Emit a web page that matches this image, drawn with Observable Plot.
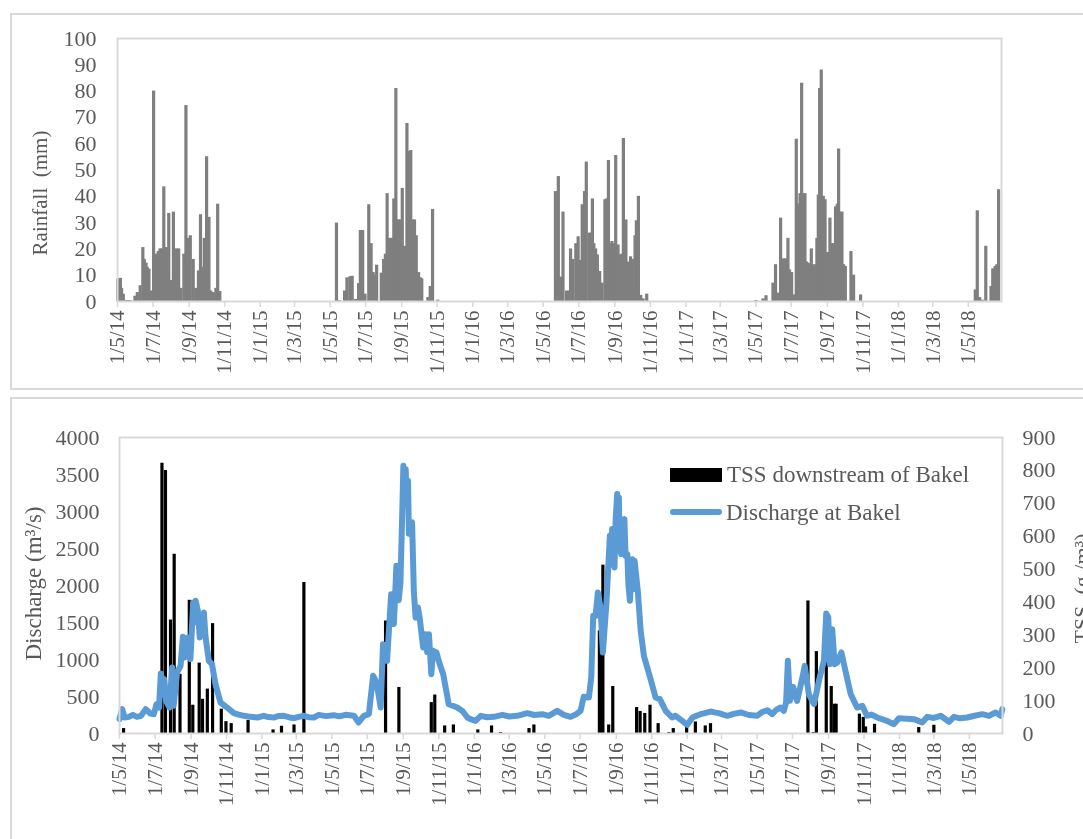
<!DOCTYPE html>
<html>
<head>
<meta charset="utf-8">
<script src="https://cdn.jsdelivr.net/npm/d3@7"></script>
<script src="https://cdn.jsdelivr.net/npm/@observablehq/plot@0.6"></script>
<style>
html,body{margin:0;padding:0;background:#fff;overflow:hidden;width:1083px;height:839px}
#page{position:relative;width:1083px;height:839px;overflow:hidden;filter:blur(.4px);font-family:"Liberation Serif",serif;color:#595959}
.panel{position:absolute;left:10px;right:-10px;border:2px solid #d9d9d9;box-sizing:border-box}
#p1{top:13px;height:377px}
#p2{top:397px;height:460px}
.chart{position:absolute;left:0}
.chart svg{overflow:visible;background:transparent}
.leg{position:absolute;font-size:23px;white-space:nowrap;color:#595959}
.key{position:absolute}
</style>
</head>
<body>
<div id="page">
  <div class="panel" id="p1"></div>
  <div class="panel" id="p2"></div>
  <div class="chart" id="top" style="top:0"></div>
  <div class="chart" id="bot" style="top:400px"></div>
  <div class="key" style="left:670px;top:468px;width:52px;height:14px;background:#000"></div>
  <div class="leg" style="left:727px;top:462px">TSS downstream of Bakel</div>
  <div class="key" style="left:670px;top:509px;width:52px;height:6px;border-radius:3px;background:#5b9bd5"></div>
  <div class="leg" style="left:726px;top:500px">Discharge at Bakel</div>
</div>
<script>
const tickLabels = ["1/5/14","1/7/14","1/9/14","1/11/14","1/1/15","1/3/15","1/5/15","1/7/15","1/9/15","1/11/15","1/1/16","1/3/16","1/5/16","1/7/16","1/9/16","1/11/16","1/1/17","1/3/17","1/5/17","1/7/17","1/9/17","1/11/17","1/1/18","1/3/18","1/5/18"];
const rainTicks = [0,10,20,30,40,50,60,70,80,90,100];
const dischargeTicks = [0,500,1000,1500,2000,2500,3000,3500,4000];
const tssTicks = [0,100,200,300,400,500,600,700,800,900];

// Days since 1 May 2014 and rainfall in mm
const rainDays = [0.5,3,5,7,10,14,18,22,30,34,39,43.5,46,49,51,54,58,62,65,67.5,70,73,76,79.5,83.5,86,88,92,96,101,105,109,114,117.5,121,125,130,134.5,139,142.5,146,149,153,157,160,165,169,172,175.7,
376,381,390,394,399,403,409,414,417,421,425,431.5,435.5,439,441,445,453,457,460,463,466,469,472,474.5,478,480,483,486,489,493,497,500,503.6,507,510,513,517,520,522.5,533,537,541,550,
752,757,761,765,771,776,778,782,787,791,795,798,802,805,810,813,815.5,818,821,824,828,832,837,840,843,846,849,852,855.5,859.5,863.5,866,868.7,873,876.7,881,884,886,888.7,891,894.5,898.5,902.5,908.8,
1096.4,1108.4,1113.6,1125.6,1130,1134.7,1138.7,1141,1144,1147,1151.3,1154,1157.6,1161,1165.6,1168,1170,1172,1174.8,1177,1180.5,1183,1186,1189,1191.4,1194,1196.5,1199,1201,1203.4,1205.7,1208.5,1212,1215,1219.4,1223.4,1226,1228,1230,1233,1236,1238.3,1241,1244,1247,1249.8,1259.5,1264,1276,
1473,1476.4,1480.4,1485,1491,1500,1503,1507,1510,1513];
const rainMm = [8.5,8.6,8.8,5,2.8,0.4,0.4,0.3,2,3.4,6,20.5,16,14.6,13,12.3,4,80,18,17.6,19,20,20,43.6,20.5,20,33.5,8,34,20,20,5,18,74.5,24,25,16,5,11.6,33,13,24,55,32,4,3.4,5,37,3.8,
29.8,0.3,4,9,9.4,9.6,0.8,6.8,27,27,2.8,36.8,22,11,10,13.8,10.8,16,18,41,24,24,24,39,81,31,31,31,43,21,67.7,57,57.4,31,31,25,11,9,8.6,1.5,5.7,35,0.5,
41.8,47.5,9.3,34,4,4,20,16,22,24.6,15.6,36.8,41.8,53,26,26,39,22,20,17.7,11.4,7,38.7,39,53.6,22,22.8,22,55.5,21.5,17.7,18,62,31,15,17,16,5,25,30.7,40,2.3,1,2.8,
0.4,1,2.2,7,14,3.2,31.7,16,16.2,16.2,24,12,11,2.5,61.7,37,37,41,83,41,41,15,14.6,14,20,14,13,14,24,40.5,81,88,40,38.7,18.6,31.7,22,21,22,36,37,58,34,34,14,13.3,19,10,2.5,
4.4,34.5,1.5,0.5,21,5.7,12.4,13.3,14,42.5];

// TSS: days since 1 May 2014 and g/m3
const tssDays = [7,73,79,87.7,94,104,120,126,137,142.7,151,160,175,183,192,221,264,278.5,300,317,457.4,480.3,536,542,559,574,616,639.6,655,704,712.4,825,828,831,841,848,889,895,903,912,926,944.5,952,975,990,1007,1016,1183.5,1192.7,1198,1215,1223.6,1229,1232,1272,1278.6,1282.6,1298,1374,1400];
const tssValues = [15,822,800,345,545,180,405,86,214,104,135,334,74,36,30,40,11,22,26,459,342,140,94,117,23,26,11,23,3,15,26,312,240,512,26,143,79,67,61,86,30,3,15,23,35,23,30,403,3,249,240,143,89,89,59,49,20,28,18,25];

// Discharge: days since 1 May 2014 and m3/s
const qDays = [0,4.6,8.6,16,23,30,37,45,53,59,63.6,68,71,74,77,80,86,90.5,93,99,105,109,112,117.5,122,126.6,129,131,134.7,138,141,145,148,153.6,159,165,173.6,185,196.6,205,214,225,237,248,256,265,274,282.5,291,300,308,317,325,334,342.7,355,368.5,378,388.5,403,411,420,428.7,436,442,449,453,457,460,464,467,471.7,476,480,483,485.5,488,490,492,494,496,497.5,499,503,506,509,513,516,522,526,529,532,536,539.3,545,550,556.5,566,580.6,590,598,605,612,621,632,643.6,658,670,683.7,701,713,726.7,738,752.5,764,775.4,785,792.6,798,807,811,814.4,818.4,822.4,827,831,837,843,845,847,849,851,853,855.6,857,858.5,860,862.5,865,868,870,873,875,877.5,881.5,883.5,885.5,888,891,896,901.5,913,921.6,929,939,950,956,967.4,976,985,992,999,1008,1016,1023,1030.5,1038,1045,1056,1068,1082,1096,1105,1113.6,1122,1129,1136.5,1142,1146,1149,1152.5,1158,1165,1174,1178,1185,1194,1202.4,1211,1215,1218.5,1221.3,1225.3,1229.4,1234,1241,1248,1257,1268,1277,1285,1293,1302.7,1318,1331.4,1340,1353,1366,1380,1388.7,1400,1411.6,1426,1434.5,1445,1457.4,1470,1483,1494.7,1506,1515,1517.6];
const qValues = [194,330,216,225,252,225,239,329,270,261,396,351,811,700,734,441,351,892,374,824,914,1306,1027,1297,1005,1770,1500,1793,1658,1297,1450,1635,1297,982,937,667,419,351,275,255,239,225,216,239,222,216,238,239,220,207,225,239,220,216,252,235,248,232,252,239,149,239,261,779,689,351,1207,982,982,1500,1883,1478,2266,1800,2040,2800,3617,3300,3572,3100,3415,2700,2829,2851,1928,1568,1703,1568,1162,1342,1100,1342,802,1117,1095,950,802,396,351,300,216,190,171,239,220,225,252,230,239,275,250,261,239,306,252,225,260,306,496,487,757,1590,1590,1906,1703,1095,1748,2671,2400,2762,2300,2243,2900,3235,2700,3190,2500,2424,2850,2897,2400,2424,2000,1793,2356,1950,2334,2150,1928,1387,1050,734,487,464,306,216,239,171,117,216,240,261,280,297,285,275,255,239,265,284,250,239,290,315,261,320,351,306,420,982,441,631,441,757,914,532,396,712,982,1622,1568,937,1410,937,960,1095,847,532,351,374,239,255,216,175,126,207,200,194,149,225,210,239,158,225,205,216,240,261,239,284,239,329];

const base = Date.UTC(2014,4,1), day = 864e5;
const toDate = d => new Date(base + d*day);
const parseTick = s => { const [d,m,y] = s.split("/").map(Number); return new Date(Date.UTC(2000+y,m-1,d)); };
const tickDates = tickLabels.map(parseTick);
const tickFmt = d => tickLabels[tickDates.findIndex(t => +t === +d)];

const rain = rainDays.map((d,i)=>({date:toDate(d),v:rainMm[i]}));
const ratio = 4000/900;
const tss = tssDays.map((d,i)=>({date:toDate(d),v:tssValues[i]*ratio}));
const q = qDays.map((d,i)=>({date:toDate(d),v:qValues[i]}));

const TXT = "#595959", GRID = "#d9d9d9", FS = 21, YFS = 22;
const xAxis = () => Plot.axisX({ticks:tickDates,tickFormat:tickFmt,tickRotate:-90,tickSize:6,tickPadding:3,stroke:GRID,strokeWidth:1.5,strokeOpacity:1,fill:TXT,label:null});

const top_ = Plot.plot({
  width:1083,height:400,marginTop:38,marginBottom:99,marginLeft:117,marginRight:82,
  style:{fontFamily:"Liberation Serif",fontSize:FS+"px",background:"transparent"},
  x:{type:"utc",domain:[toDate(0),toDate(1518)]},
  y:{domain:[0,100]},
  marks:[
    Plot.ruleX(rain,{x:"date",y1:0,y2:"v",stroke:"#7f7f7f",strokeWidth:3.2}),
    Plot.frame({stroke:GRID,strokeWidth:2}),
    xAxis(),
    Plot.axisY({ticks:rainTicks,tickFormat:d=>String(d),tickSize:0,tickPadding:21,fontSize:YFS,fill:TXT,label:null}),
    Plot.text(["Rainfall\u00a0\u00a0(mm)"],{frameAnchor:"left",textAnchor:"middle",rotate:-90,dx:-77,dy:23,fill:TXT,fontSize:21})
  ]
});
document.getElementById("top").append(top_);

const bot_ = Plot.plot({
  width:1083,height:439,marginTop:37,marginBottom:106,marginLeft:119,marginRight:81,
  style:{fontFamily:"Liberation Serif",fontSize:FS+"px",background:"transparent"},
  x:{type:"utc",domain:[toDate(0),toDate(1518)]},
  y:{domain:[0,4000]},
  marks:[
    Plot.ruleX(tss,{x:"date",y1:0,y2:"v",stroke:"#000",strokeWidth:3.2}),
    Plot.line(q,{x:"date",y:"v",stroke:"#5b9bd5",strokeWidth:6,strokeLinejoin:"round",strokeLinecap:"round"}),
    Plot.frame({stroke:GRID,strokeWidth:2}),
    xAxis(),
    Plot.axisY({ticks:dischargeTicks,tickFormat:d=>String(d),tickSize:0,tickPadding:20,fontSize:YFS,fill:TXT,label:null}),
    Plot.axisY({anchor:"right",ticks:tssTicks.map(v=>v*ratio),tickFormat:v=>String(Math.round(v/ratio)),tickSize:0,tickPadding:20,fontSize:YFS,fill:TXT,label:null}),
    Plot.text(["Discharge (m\u00b3/s)"],{frameAnchor:"left",textAnchor:"middle",rotate:-90,dx:-86,dy:-2,fill:TXT,fontSize:23}),
    Plot.text(["TSS\u00a0\u00a0(g /m\u00b3)"],{frameAnchor:"right",rotate:-90,dx:79,dy:-52,fill:TXT,fontSize:22})
  ]
});
document.getElementById("bot").append(bot_);
</script>
</body>
</html>
